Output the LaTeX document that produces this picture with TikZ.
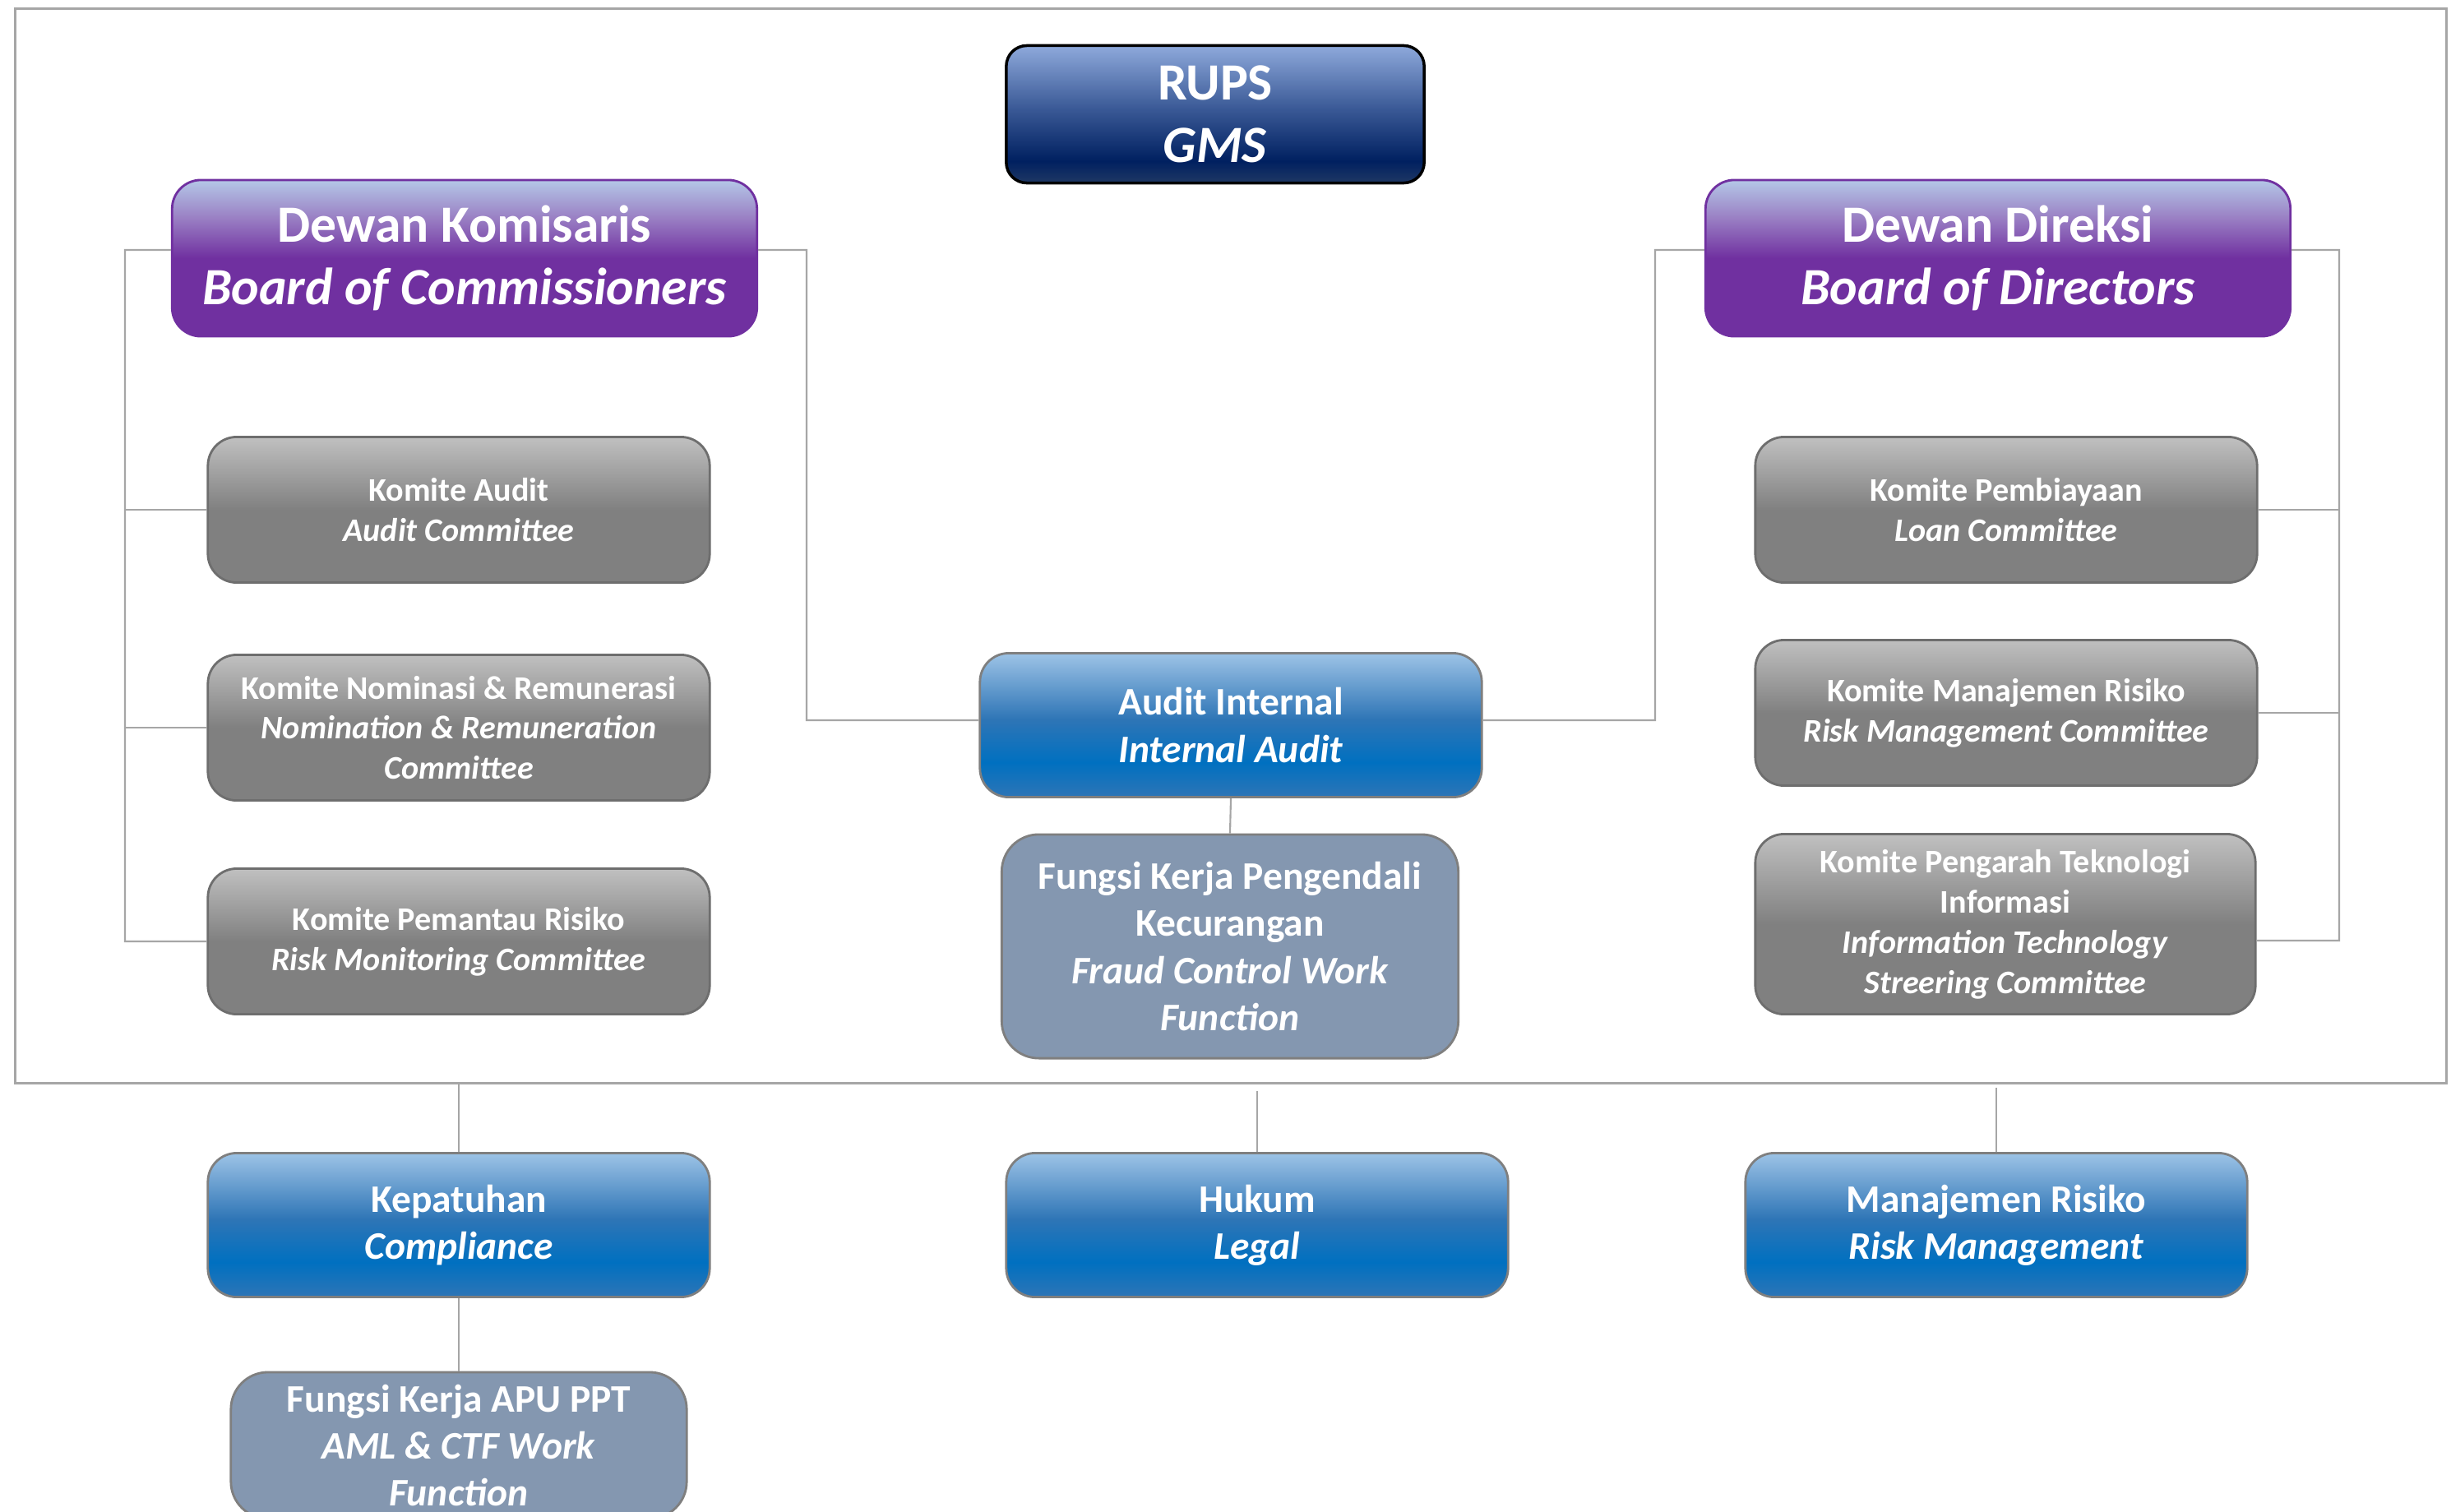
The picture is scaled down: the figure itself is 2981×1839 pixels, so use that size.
\documentclass[tikz,border=0pt]{standalone}
\usepackage{fontspec}
\setmainfont{Carlito}
\definecolor{cNavyT}{HTML}{8EA9DB}
\definecolor{cNavyM}{HTML}{3A5996}
\definecolor{cNavyD}{HTML}{002060}
\definecolor{cNavyB}{HTML}{1F3864}
\definecolor{cPurT}{HTML}{B4C7E7}
\definecolor{cPurM}{HTML}{9A80C4}
\definecolor{cPur}{HTML}{7030A0}
\definecolor{cGrT}{HTML}{C0C0C0}
\definecolor{cGr}{HTML}{808080}
\definecolor{cBlT}{HTML}{9DC3E6}
\definecolor{cBlM}{HTML}{2E75B6}
\definecolor{cBlD}{HTML}{0070C0}
\definecolor{cSlate}{HTML}{8497B0}
\definecolor{cLine}{HTML}{A6A6A6}
\definecolor{cBord}{HTML}{7F7F7F}
\definecolor{cGrBord}{HTML}{6E6E6E}
\pgfdeclareverticalshading{navysh}{100bp}{color(0bp)=(cNavyB); color(25bp)=(cNavyB); color(33bp)=(cNavyD); color(52bp)=(cNavyM); color(75bp)=(cNavyT); color(100bp)=(cNavyT)}
\pgfdeclareverticalshading{pursh}{100bp}{color(0bp)=(cPur); color(50bp)=(cPur); color(63bp)=(cPurM); color(75bp)=(cPurT); color(100bp)=(cPurT)}
\pgfdeclareverticalshading{grsh}{100bp}{color(0bp)=(cGr); color(50bp)=(cGr); color(75bp)=(cGrT); color(100bp)=(cGrT)}
\pgfdeclareverticalshading{blsh}{100bp}{color(0bp)=(cBlM); color(25bp)=(cBlM); color(37bp)=(cBlD); color(52bp)=(cBlM); color(75bp)=(cBlT); color(100bp)=(cBlT)}
\tikzset{
  basebox/.style={inner sep=0pt, align=center, text=white},
  bigfont/.style={font=\bfseries\fontsize{18.1}{21.8}\selectfont},
  midfont/.style={font=\bfseries\fontsize{13.5}{16.3}\selectfont},
  smallfont/.style={font=\bfseries\fontsize{11.4}{13.9}\selectfont},
  rupsbox/.style={basebox, bigfont, shading=navysh, draw=black, line width=1pt,
    rounded corners=0.25cm, minimum width=5.08cm, minimum height=1.67cm},
  boardbox/.style={basebox, bigfont, shading=pursh, draw=cPur, line width=0.8pt,
    rounded corners=0.35cm, minimum width=7.11cm, minimum height=1.90cm},
  combox/.style={basebox, smallfont, shading=grsh, draw=cGrBord, line width=0.8pt,
    rounded corners=0.35cm, minimum width=6.10cm, minimum height=1.77cm},
  bluebox/.style={basebox, midfont, shading=blsh, draw=cBord, line width=0.8pt,
    rounded corners=0.35cm, minimum width=6.10cm, minimum height=1.75cm},
  slatebox/.style={basebox, midfont, fill=cSlate, draw=cBord, line width=0.8pt,
    rounded corners=0.45cm},
  framebox/.style={draw=cLine, line width=0.9pt, inner sep=0pt,
    minimum width=29.56cm, minimum height=13.06cm},
  conn/.style={draw=cLine, line width=0.6pt}
}
\begin{document}
\begin{tikzpicture}[x=0.01cm, y=-0.01cm]
\useasboundingbox (0,0) rectangle (2981,1839);
\fill[white] (0,0) rectangle (2981,1839);
\clip (0,0) rectangle (2981,1839);

\node[framebox] (fr) at (1497,664) {};

\node[rupsbox] (rups) at (1478,139) {RUPS\\\textit{GMS}};
\node[boardbox] (bk) at (565,314) {Dewan Komisaris\\\textit{Board of Commissioners}};
\node[boardbox] (bd) at (2430,314) {Dewan Direksi\\\textit{Board of Directors}};

\node[combox] (ka) at (558,620) {Komite Audit\\\textit{Audit Committee}};
\node[combox] (kn) at (558,885) {Komite Nominasi \& Remunerasi\\\textit{Nomination \& Remuneration}\\\textit{Committee}};
\node[combox] (kpr) at (558,1145) {Komite Pemantau Risiko\\\textit{Risk Monitoring Committee}};

\node[combox] (kpb) at (2440,620) {Komite Pembiayaan\\\textit{Loan Committee}};
\node[combox] (kmr) at (2440,867) {Komite Manajemen Risiko\\\textit{Risk Management Committee}};
\node[combox, minimum width=6.08cm, minimum height=2.19cm] (kpt) at (2439,1124) {Komite Pengarah Teknologi\\Informasi\\\textit{Information Technology}\\\textit{Streering Committee}};

\node[bluebox] (ai) at (1497,882) {Audit Internal\\\textit{Internal Audit}};
\node[slatebox, minimum width=5.55cm, minimum height=2.72cm] (fk) at (1496,1151) {Fungsi Kerja Pengendali\\Kecurangan\\\textit{Fraud Control Work}\\\textit{Function}};

\node[bluebox] (kp) at (558,1490) {Kepatuhan\\\textit{Compliance}};
\node[bluebox] (hk) at (1529,1490) {Hukum\\\textit{Legal}};
\node[bluebox] (mr) at (2428,1490) {Manajemen Risiko\\\textit{Risk Management}};
\node[slatebox, minimum width=5.54cm, minimum height=1.78cm] (apu) at (558,1758) {Fungsi Kerja APU PPT\\\textit{AML \& CTF Work}\\\textit{Function}};

\coordinate (kl) at (152,304);
\coordinate (kr) at (981,304);
\coordinate (dl) at (2013,304);
\coordinate (dr) at (2845,304);
\coordinate (dr2) at (2845,1144);
\coordinate (aiw) at ([yshift=0.06cm]ai.west);
\coordinate (aie) at ([yshift=0.06cm]ai.east);

\draw[conn] ([yshift=0.1cm]bk.west) -- (kl) -- (kl |- kpr.west) -- (kpr.west);
\draw[conn] (kl |- ka.west) -- (ka.west);
\draw[conn] (kl |- kn.west) -- (kn.west);
\draw[conn] ([yshift=0.1cm]bk.east) -- (kr) -- (kr |- aiw) -- (aiw);
\draw[conn] ([yshift=0.1cm]bd.west) -- (dl) -- (dl |- aie) -- (aie);
\draw[conn] ([yshift=0.1cm]bd.east) -- (dr) -- (dr2) -- (kpt.east |- dr2);
\draw[conn] (dr |- kpb.east) -- (kpb.east);
\draw[conn] (dr |- kmr.east) -- (kmr.east);
\draw[conn] (ai.south) -- (fk.north);
\draw[conn] (fr.south -| kp.north) -- (kp.north);
\draw[conn] (kp.south) -- (apu.north);
\draw[conn] ([yshift=-0.08cm]fr.south -| hk.north) -- (hk.north);
\draw[conn] ([yshift=-0.04cm]fr.south -| mr.north) -- (mr.north);
\end{tikzpicture}
\end{document}
